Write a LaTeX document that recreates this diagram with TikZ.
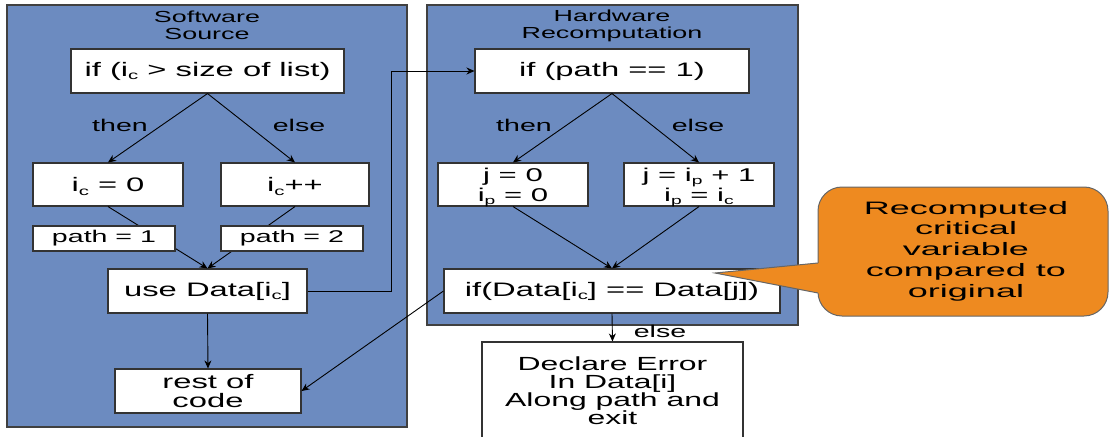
\documentclass[tikz,border=0pt]{standalone}
\usepackage{fontspec}
\newfontfamily\diagfont[FakeStretch=1.68]{Liberation Sans}
\newfontfamily\notefont[FakeStretch=2.0]{Liberation Sans}
\usetikzlibrary{arrows.meta}
\definecolor{panelblue}{RGB}{108,139,192}
\definecolor{calloutorange}{RGB}{238,138,32}
% lowered, reduced subscript in the current text font (kept out of the line depth)
\newcommand\lowsub[1]{\smash{\raisebox{-0.35ex}{\scalebox{0.62}{#1}}}}

\begin{document}
\begin{tikzpicture}[x=1pt,y=-1pt,
  panel/.style={fill=panelblue,draw=black!75,line width=1.2pt},
  stepbox/.style={draw=black!80,fill=white,line width=1.1pt,inner sep=0pt,
    align=center,font=\diagfont\fontsize{19.5}{19.5}\selectfont},
  smallbox/.style={stepbox,font=\diagfont\fontsize{17}{17}\selectfont},
  pairbox/.style={stepbox,font=\diagfont\fontsize{18.5}{20}\selectfont},
  errbox/.style={stepbox,font=\diagfont\fontsize{19}{18}\selectfont},
  title/.style={align=center,inner sep=0pt,font=\diagfont\fontsize{16}{17}\selectfont},
  branch/.style={inner sep=0pt,font=\diagfont\fontsize{17}{17}\selectfont},
  link/.style={draw=black,line width=0.9pt},
  arr/.style={link,-{Stealth[length=8pt,width=7pt]}},
  bubbleline/.style={draw=black!60,line width=1pt}]

\path[use as bounding box,clip] (0,0) rectangle (1110,436);

% the two columns
\path[panel] (7,5) rectangle (407,427);
\path[panel] (427,5) rectangle (798,325);
\node[title] (swtitle) at (207,25.5) {Software\\Source};
\node[title] (hwtitle) at (612,25.5) {Hardware\\Recomputation};

% software source column
\node[stepbox,minimum width=273pt,minimum height=44pt] (ifsize) at (207.5,71)
  {if (i\lowsub{c} > size of list)};
\node[stepbox,minimum width=150pt,minimum height=43pt] (iczero) at (108,184.5)
  {i\lowsub{c} = 0};
\node[stepbox,minimum width=148pt,minimum height=43pt] (icinc) at (295,184.5)
  {i\lowsub{c}++};
\node[stepbox,minimum width=199pt,minimum height=44pt] (usedata) at (207.5,291)
  {use Data[i\lowsub{c}]};
\node[stepbox,minimum width=186pt,minimum height=44pt] (rest) at (208,391)
  {rest of\\code};
\node[branch] (swthen) at (120,125) {then};
\node[branch] (swelse) at (299,125) {else};

% hardware recomputation column
\node[stepbox,minimum width=274pt,minimum height=44pt] (ifpath) at (612,71)
  {if (path == 1)};
\node[pairbox,minimum width=150pt,minimum height=43pt] (jzero) at (513,184.5)
  {j = 0\\i\lowsub{p} = 0};
\node[pairbox,minimum width=150pt,minimum height=43pt] (jinc) at (699,184.5)
  {j = i\lowsub{p} + 1\\i\lowsub{p} = i\lowsub{c}};
\node[stepbox,minimum width=336pt,minimum height=44pt] (cmp) at (612,291)
  {if(Data[i\lowsub{c}] == Data[j])};
\node[branch] (hwthen) at (524,125) {then};
\node[branch] (hwelse) at (698,125) {else};

% error exit below the columns
\node[errbox,minimum width=261pt,minimum height=98pt]
  (declare) at (612.5,391) {Declare Error\\In Data[i]\\Along path and\\exit};
\node[branch] (errelse) at (660,331) {else};

% connectors
\draw[arr] (ifsize.south) -- (iczero.north);
\draw[arr] (ifsize.south) -- (icinc.north);
\draw[arr] (iczero.south) -- (usedata.north);
\draw[arr] (icinc.south) -- (usedata.north);
\draw[arr] (usedata.south) -- (rest.north);
\draw[arr] (usedata.east) -- ++(84,0) |- (ifpath.west);
\draw[arr] (ifpath.south) -- (jzero.north);
\draw[arr] (ifpath.south) -- (jinc.north);
\draw[arr] (jzero.south) -- (cmp.north);
\draw[arr] (jinc.south) -- (cmp.north);
\draw[arr] (cmp.south) -- (declare.north);
\draw[arr] (cmp.west) -- (rest.east);

% path assignments sit on top of the converging lines
\node[smallbox,minimum width=142pt,minimum height=25pt] (pathone) at (104,238.5)
  {path = 1};
\node[smallbox,minimum width=142pt,minimum height=25pt] (pathtwo) at (292,238.5)
  {path = 2};

% speech bubble: rounded body, then the pointer merged into it
\coordinate (tip) at (715,273);
\coordinate (baseup) at (818,263);
\coordinate (basedown) at (818,293);
\path[fill=calloutorange,bubbleline,rounded corners=24pt]
  (818,187) rectangle (1108,316);
\fill[calloutorange] (tip) -- (baseup) -- ++(6,0) -- (824,293) -- (basedown) -- cycle;
\draw[bubbleline,line join=miter] (baseup) -- (tip) -- (basedown);
\node[align=center,inner sep=0pt,font=\notefont\fontsize{18}{20.7}\selectfont]
  (note) at (966,251) {Recomputed\\critical\\variable\\compared to\\original};
\end{tikzpicture}
\end{document}
